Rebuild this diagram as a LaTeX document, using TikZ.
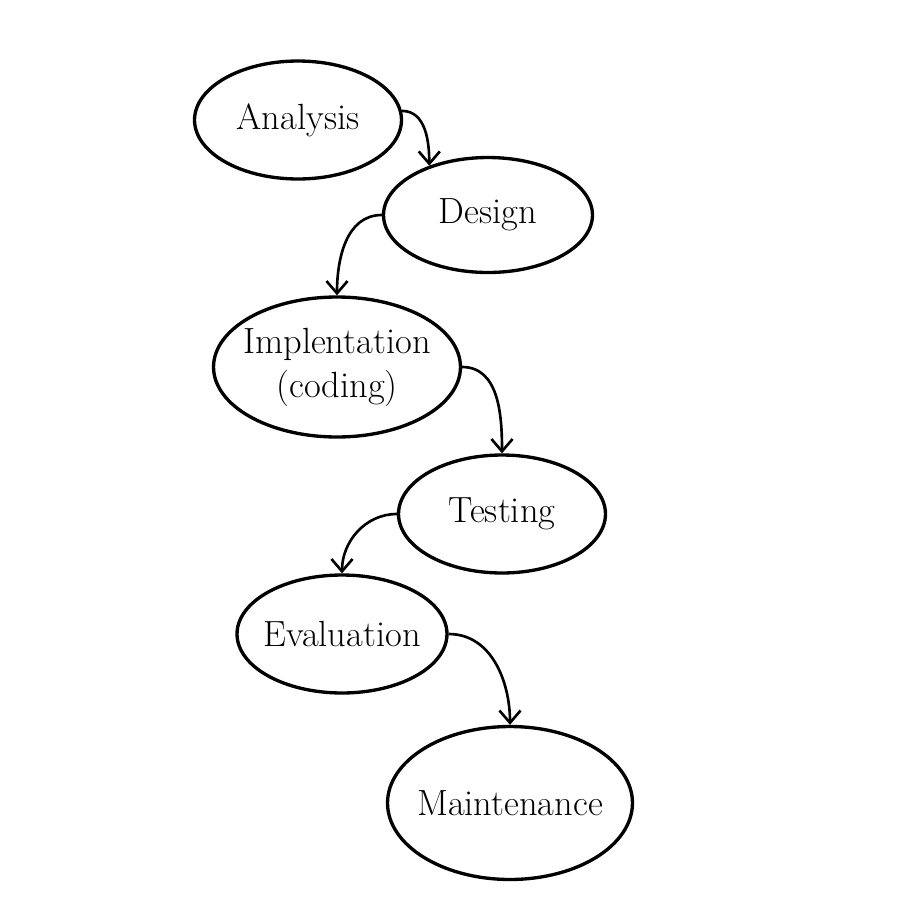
\documentclass[tikz,border=0pt]{standalone}
\usetikzlibrary{shapes.geometric,arrows.meta}
\begin{document}
\begin{tikzpicture}[x=0.02cm,y=-0.02cm,
  phase/.style={draw,ellipse,line width=1.9pt,inner ysep=0pt,inner xsep=-0.16cm,font=\huge,align=center},
  flow/.style={-{Straight Barb[length=7pt,width=12pt]},line width=1.5pt}]
\useasboundingbox (0,0) rectangle (900,900);
\node[phase,minimum width=4.14cm,minimum height=2.36cm] (analysis) at (298,120) {Analysis};
\node[phase,minimum width=4.18cm,minimum height=2.30cm] (design) at (488,215) {Design};
\node[phase,minimum width=4.94cm,minimum height=2.80cm] (impl) at (337,367) {Implentation\\(coding)};
\node[phase,minimum width=4.14cm,minimum height=2.36cm] (testing) at (502,514) {Testing};
\node[phase,minimum width=4.20cm,minimum height=2.36cm] (eval) at (342,634) {Evaluation};
\node[phase,minimum width=4.90cm,minimum height=3.06cm] (maint) at (510,803) {Maintenance};

\draw[flow] (analysis.5) to[out=0,in=90] (design.140);
\draw[flow] (design.west) to[out=180,in=90] (impl.north);
\draw[flow] (impl.east) to[out=0,in=90] (testing.north);
\draw[flow] (testing.west) to[out=180,in=90] (eval.north);
\draw[flow] (eval.east) to[out=0,in=90] (maint.north);
\end{tikzpicture}
\end{document}
